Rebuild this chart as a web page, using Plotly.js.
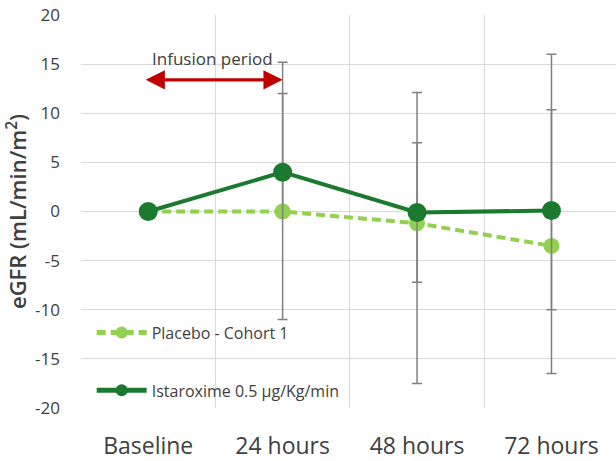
<!DOCTYPE html>
<html>
<head>
<meta charset="utf-8">
<script src="https://cdn.plot.ly/plotly-3.0.1.min.js"></script>
<style>
  html, body { margin: 0; padding: 0; background: #fff; }
  #chart { width: 616px; height: 461px; }
</style>
</head>
<body>
<div id="chart"></div>
<script>
// Time points after start of infusion
const categories = ['Baseline', '24 hours', '48 hours', '72 hours'];

// Mean change in eGFR (mL/min/m²)
const placebo = [0, 0, -1.2, -3.5];
const istaroxime = [0, 4, -0.1, 0.1];

// Error bar extents (upper / lower distance from the mean)
const placeboErrPlus  = [null, 12, 13.3, 19.5];
const placeboErrMinus = [null, 0, 16.3, 13.0];
const istaroximeErrPlus  = [null, 11.2, 7.1, 10.25];
const istaroximeErrMinus = [null, 15.0, 7.1, 10.1];

// y-axis ticks, written with a plain hyphen for negatives
const yTickVals = [-20, -15, -10, -5, 0, 5, 10, 15, 20];
const yTickText = ['-20', '-15', '-10', '-5', '0', '5', '10', '15', '20'];

// Series names
const placeboName = 'Placebo - Cohort 1';
const istaroximeName = 'Istaroxime 0.5 µg/Kg/min';

const FONT = '"Open Sans", "Liberation Sans", Arial, sans-serif';
const TEXT = '#404040';
const GRID = '#d9d9d9';
const ERR = '#808080';

const errStyle = (plus, minus) => ({
  type: 'data', symmetric: false, array: plus, arrayminus: minus,
  color: ERR, thickness: 1.5, width: 5
});

const traces = [
  {
    x: categories, y: placebo, name: placeboName,
    type: 'scatter', mode: 'lines+markers', legendgroup: 'p',
    line: { color: '#92d050', width: 4, dash: '9px,5px' },
    marker: { color: '#92d050', size: 16 },
    error_y: errStyle(placeboErrPlus, placeboErrMinus)
  },
  {
    x: categories, y: istaroxime, name: istaroximeName,
    type: 'scatter', mode: 'lines+markers', legendgroup: 'i',
    line: { color: '#1b7a30', width: 4 },
    marker: { color: '#1b7a30', size: 19 },
    error_y: errStyle(istaroximeErrPlus, istaroximeErrMinus)
  }
];

const layout = {
  width: 616, height: 461,
  margin: { l: 81, r: 0, t: 15, b: 53 },
  paper_bgcolor: '#fff', plot_bgcolor: '#fff',
  font: { family: FONT, color: TEXT },
  showlegend: true,
  legend: {
    x: 0.02, y: 0.235, xanchor: 'left', yanchor: 'top',
    bgcolor: 'rgba(0,0,0,0)', tracegroupgap: 34,
    traceorder: 'grouped', itemsizing: 'constant', itemwidth: 50,
    font: { family: FONT, size: 16, color: TEXT }
  },
  xaxis: {
    type: 'category', range: [-0.5, 3.48],
    tickson: 'boundaries', showgrid: true, gridcolor: GRID, gridwidth: 1,
    ticks: '', ticklabelstandoff: 22,
    tickfont: { family: FONT, size: 23, color: TEXT },
    showline: false, zeroline: false, fixedrange: true
  },
  yaxis: {
    range: [-20, 20], tickmode: 'array', tickvals: yTickVals, ticktext: yTickText,
    showgrid: true, gridcolor: GRID, gridwidth: 1,
    zeroline: false, showline: false, ticks: '',
    ticklabelstandoff: 20,
    tickfont: { family: FONT, size: 17, color: TEXT },
    title: {
      text: 'eGFR (mL/min/m<sup>2</sup>)', standoff: 2,
      font: { family: FONT, size: 22, color: TEXT, weight: 600 }
    },
    automargin: false, fixedrange: true
  },
  annotations: [
    {
      // double-headed arrow marking the infusion period
      xref: 'x', yref: 'y', axref: 'x', ayref: 'y',
      x: 1, y: 13.4, ax: -0.03, ay: 13.4,
      text: '', showarrow: true, arrowside: 'end+start',
      arrowhead: 2, startarrowhead: 2, arrowsize: 1.2, startarrowsize: 1.2,
      arrowwidth: 3.2, arrowcolor: '#c00000', standoff: 0, startstandoff: 0
    },
    {
      xref: 'x', yref: 'y', x: 0.48, y: 15.6,
      text: 'Infusion period', showarrow: false,
      font: { family: FONT, size: 17, color: TEXT }
    }
  ]
};

Plotly.newPlot('chart', traces, layout, { displayModeBar: false, staticPlot: true });
</script>
</body>
</html>
